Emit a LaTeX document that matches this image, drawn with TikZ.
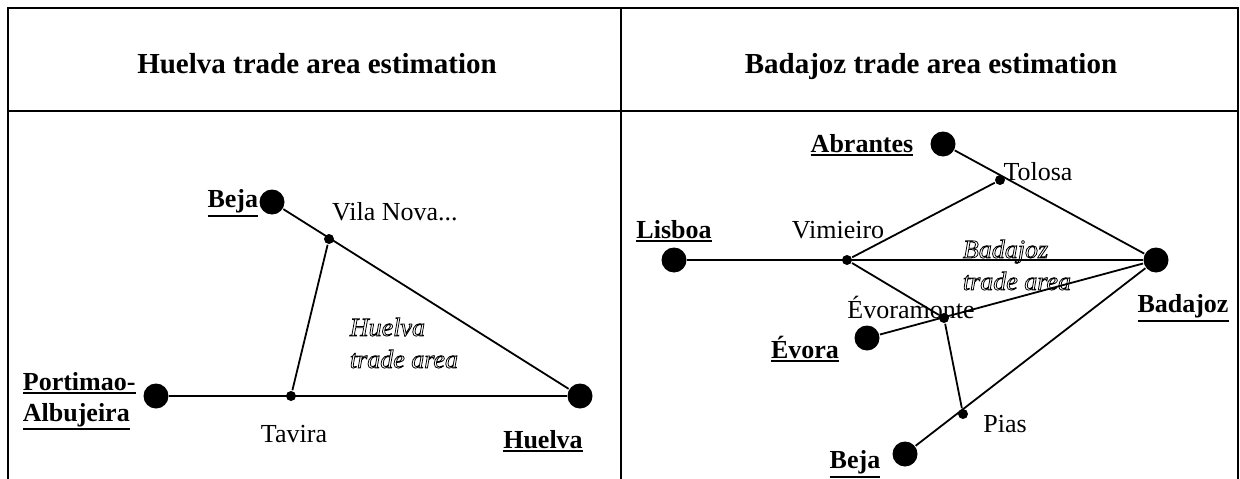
\documentclass[tikz,border=0pt]{standalone}
\usepackage{fontspec}
\setmainfont{Liberation Serif}
\usetikzlibrary{positioning}

% hollow (stroked) letters for the area names
\newcommand{\outlined}[1]{\special{pdf:literal direct 1 Tr 0.8 w}#1\special{pdf:literal direct 0 Tr}}
% thick underline for the cities
\newcommand{\cityul}[1]{\vtop{\hbox{#1}\kern1.5pt\hrule height 2pt}}

\begin{document}
\begin{tikzpicture}[x=1pt,y=-1pt,-,line width=1.8pt,
                    city/.style={circle,fill,inner sep=0pt,minimum size=25pt},
                    town/.style={circle,fill,inner sep=0pt,minimum size=10pt},
                    cityname/.style={font=\fontsize{26}{31}\selectfont\bfseries,inner sep=0pt,align=left},
                    townname/.style={font=\fontsize{26}{31}\selectfont,inner sep=0pt},
                    area/.style={font=\fontsize{26}{32}\selectfont\itshape,inner sep=0pt,align=left},
                    head/.style={font=\fontsize{29}{34}\selectfont\bfseries,anchor=base}]

  \useasboundingbox (0,0) rectangle (1240,479);

  % table
  \draw[line width=1.6pt] (8,479) -- (8,8) -- (1238,8) -- (1238,479);
  \draw[line width=1.6pt] (8,111) -- (1238,111);
  \draw[line width=1.6pt] (621,8) -- (621,479);

  \node[head] (h1) at (317,73) {Huelva trade area estimation};
  \node[head] (h2) at (931,73) {Badajoz trade area estimation};

  % Huelva
  \node[city] (bj) at (272,202) {};
  \node[town] (vn) at (329,239) {};
  \node[city] (pa) at (156,396) {};
  \node[town] (tv) at (291,396) {};
  \node[city] (hu) at (580,396) {};

  \path (pa) edge (hu)
        (bj) edge (hu)
        (tv) edge (vn);

  \node[cityname,anchor=east] (bjL) at (259,203) {\cityul{Beja}};
  \node[townname] (vnL) at (395,212) {Vila Nova...};
  \node[cityname,anchor=west] (paL) at (22,401) {\cityul{Portimao-}\\\cityul{Albujeira}};
  \node[townname] (tvL) at (294,434) {Tavira};
  \node[cityname] (huL) at (543,441) {\cityul{Huelva}};
  \node[area,anchor=west] (huA) at (349,343) {\outlined{Huelva}\\\outlined{trade area}};

  % Badajoz
  \node[city] (ab) at (943,144) {};
  \node[town] (to) at (1000,180) {};
  \node[city] (li) at (674,260) {};
  \node[town] (vi) at (847,260) {};
  \node[city] (ba) at (1156,260) {};
  \node[town] (em) at (944,318) {};
  \node[city] (ev) at (867,338) {};
  \node[town] (pi) at (963,414) {};
  \node[city] (be) at (905,454) {};

  \path (li) edge (ba)
        (ab) edge (ba)
        (vi) edge (to)
        edge (em)
        (ev) edge (ba)
        (em) edge (pi)
        (be) edge (ba);

  \node[cityname] (abL) at (862,145) {\cityul{Abrantes}};
  \node[townname] (toL) at (1038,172) {Tolosa};
  \node[cityname] (liL) at (674,231) {\cityul{Lisboa}};
  \node[townname] (viL) at (838,230) {Vimieiro};
  \node[area,anchor=west] (baA) at (962,265) {\outlined{Badajoz}\\\outlined{trade area}};
  \node[townname] (emL) at (911,307) {Évoramonte};
  \node[cityname] (evL) at (805,349) {\cityul{Évora}};
  \node[cityname] (baL) at (1183,308) {\cityul{Badajoz}};
  \node[townname] (piL) at (1005,424) {Pias};
  \node[cityname] (beL) at (855,464) {\cityul{Beja}};
\end{tikzpicture}
\end{document}
